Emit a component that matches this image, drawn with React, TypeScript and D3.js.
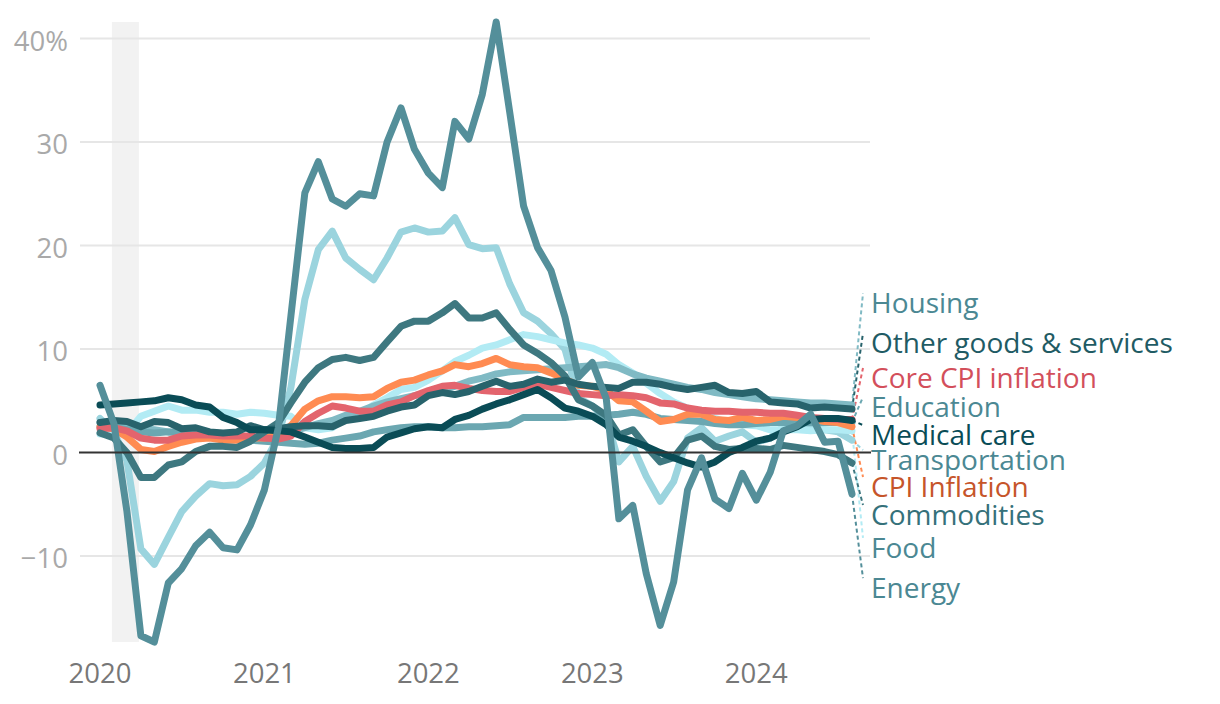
import React from 'react';
import * as d3 from 'd3';

// ---- Data (YoY % change, monthly Jan 2020 – Aug 2024) ----
const startMonth = new Date(2020, 0, 1);
const endMonth = new Date(2024, 7, 1);
const months = d3.timeMonth.range(startMonth, d3.timeMonth.offset(endMonth, 1));

const energy = [
  6.5, 2.8, -5.7, -17.7, -18.3, -12.6, -11.2, -9.0, -7.7, -9.2, -9.4, -7.0,
  -3.6, 2.4, 13.2, 25.1, 28.1, 24.5, 23.8, 25.0, 24.8, 30.0, 33.3, 29.3,
  27.0, 25.6, 32.0, 30.3, 34.6, 41.6, 32.9, 23.8, 19.8, 17.6, 13.1, 7.3,
  8.7, 5.2, -6.4, -5.1, -11.7, -16.7, -12.5, -3.6, -0.5, -4.5, -5.4, -2.0,
  -4.6, -1.9, 2.1, 2.6, 3.7, 1.0, 1.1, -4.0,
];
const transportation = [
  3.3, 2.0, -0.8, -9.3, -10.8, -8.2, -5.7, -4.2, -3.0, -3.2, -3.1, -2.3,
  -1.0, 1.5, 6.3, 14.8, 19.6, 21.4, 18.8, 17.7, 16.7, 18.8, 21.3, 21.7,
  21.3, 21.4, 22.7, 20.1, 19.7, 19.8, 16.3, 13.5, 12.7, 11.5, 10.0, 5.3,
  4.5, 3.3, -0.9, 0.6, -2.3, -4.7, -2.8, 1.4, 2.4, 1.1, 1.6, 2.0,
  1.0, 1.4, 2.5, 2.8, 2.6, 2.2, 2.0, 1.2,
];
const food = [
  1.8, 1.8, 1.9, 3.5, 4.0, 4.5, 4.1, 4.1, 3.9, 3.9, 3.7, 3.9,
  3.8, 3.6, 3.5, 2.4, 2.2, 2.4, 3.4, 3.7, 4.6, 5.3, 6.1, 6.3,
  7.0, 7.9, 8.8, 9.4, 10.1, 10.4, 10.9, 11.4, 11.2, 10.9, 10.6, 10.4,
  10.1, 9.5, 8.5, 7.7, 6.7, 5.7, 4.9, 4.3, 3.7, 3.3, 2.9, 2.7,
  2.6, 2.2, 2.2, 2.2, 2.1, 2.2, 2.2, 2.1,
];
const housing = [
  2.9, 2.9, 2.6, 2.3, 2.2, 2.0, 2.0, 1.8, 1.6, 1.6, 1.4, 1.4,
  1.5, 1.7, 2.0, 2.4, 2.8, 3.1, 3.6, 4.0, 4.5, 4.9, 5.2, 5.5,
  5.8, 6.1, 6.4, 6.9, 7.2, 7.6, 7.8, 7.9, 8.0, 8.1, 8.2, 8.3,
  8.4, 8.5, 8.2, 7.6, 7.2, 6.9, 6.6, 6.3, 6.1, 5.8, 5.6, 5.4,
  5.2, 5.1, 5.0, 4.9, 4.8, 4.8, 4.7, 4.6,
];
const education = [
  2.5, 2.4, 2.2, 2.0, 1.9, 2.0, 1.9, 1.8, 1.7, 1.6, 1.4, 1.2,
  1.1, 1.0, 0.9, 0.8, 0.9, 1.2, 1.4, 1.6, 2.0, 2.2, 2.4, 2.5,
  2.5, 2.4, 2.4, 2.5, 2.5, 2.6, 2.7, 3.4, 3.4, 3.4, 3.4, 3.5,
  3.5, 3.6, 3.7, 3.9, 3.7, 3.3, 3.2, 3.1, 3.0, 2.8, 2.7, 2.7,
  2.8, 2.9, 2.9, 2.9, 2.9, 2.9, 2.9, 2.9,
];
const otherGoods = [
  2.9, 3.1, 3.0, 2.5, 3.0, 2.9, 2.3, 2.4, 2.0, 1.9, 2.0, 2.6,
  2.2, 2.3, 2.5, 2.6, 2.6, 2.5, 3.1, 3.3, 3.5, 4.0, 4.4, 4.6,
  5.5, 5.8, 5.6, 5.9, 6.4, 6.9, 6.4, 6.6, 7.1, 6.8, 7.0, 6.6,
  6.4, 6.3, 6.2, 6.8, 6.8, 6.6, 6.3, 6.1, 6.3, 6.5, 5.8, 5.7,
  5.9, 4.9, 4.8, 4.7, 4.3, 4.4, 4.3, 4.2,
];
const commodities = [
  1.9, 1.4, 0.0, -2.4, -2.4, -1.2, -0.9, 0.1, 0.6, 0.6, 0.5, 1.1,
  2.0, 2.9, 4.8, 6.8, 8.2, 9.0, 9.2, 8.9, 9.2, 10.7, 12.2, 12.7,
  12.7, 13.5, 14.4, 13.0, 13.0, 13.5, 11.9, 10.4, 9.6, 8.7, 7.4, 5.1,
  4.5, 3.6, 1.7, 2.2, 0.6, -0.9, -0.5, 1.2, 1.6, 0.6, 0.3, 0.4,
  0.4, 0.3, 0.7, 0.5, 0.3, 0.1, -0.2, -1.0,
];
const medicalCare = [
  4.6, 4.7, 4.8, 4.9, 5.0, 5.3, 5.1, 4.6, 4.4, 3.4, 2.9, 2.2,
  2.2, 2.1, 2.0, 1.5, 1.0, 0.5, 0.4, 0.4, 0.5, 1.5, 1.9, 2.3,
  2.5, 2.4, 3.2, 3.6, 4.2, 4.7, 5.1, 5.6, 6.1, 5.3, 4.3, 4.0,
  3.5, 2.7, 1.5, 1.1, 0.6, 0.0, -0.5, -1.0, -1.4, -0.9, 0.0, 0.5,
  1.1, 1.4, 2.0, 2.5, 3.2, 3.3, 3.3, 3.1,
];
const coreCpi = [
  2.3, 2.4, 2.1, 1.4, 1.2, 1.2, 1.6, 1.7, 1.7, 1.6, 1.6, 1.6,
  1.4, 1.3, 1.6, 3.0, 3.8, 4.5, 4.3, 4.0, 4.0, 4.6, 4.9, 5.5,
  6.0, 6.4, 6.5, 6.2, 6.0, 5.9, 5.9, 6.3, 6.6, 6.3, 6.0, 5.7,
  5.6, 5.5, 5.6, 5.5, 5.3, 4.8, 4.7, 4.3, 4.1, 4.0, 4.0, 3.9,
  3.9, 3.8, 3.8, 3.6, 3.4, 3.3, 3.2, 3.2,
];
const cpi = [
  2.5, 2.3, 1.5, 0.3, 0.1, 0.6, 1.0, 1.3, 1.4, 1.2, 1.2, 1.4,
  1.4, 1.7, 2.6, 4.2, 5.0, 5.4, 5.4, 5.3, 5.4, 6.2, 6.8, 7.0,
  7.5, 7.9, 8.5, 8.3, 8.6, 9.1, 8.5, 8.3, 8.2, 7.7, 7.1, 6.5,
  6.4, 6.0, 5.0, 4.9, 4.0, 3.0, 3.2, 3.7, 3.7, 3.2, 3.1, 3.4,
  3.1, 3.2, 3.5, 3.4, 3.3, 3.0, 2.9, 2.5,
];

const yTicks = [-10, 0, 10, 20, 30, 40];
const yearTicks = [2020, 2021, 2022, 2023, 2024];
const recession = [new Date(2020, 1, 1), new Date(2020, 3, 1)];

// label placement (in % units, where each end label sits)
const labelAt: Record<string, number> = {
  housing: 15.4, other: 11.55, core: 8.17, education: 5.37, medical: 2.66,
  transportation: 0.25, cpi: -2.36, commodities: -5.06, food: -8.25, energy: -12.12,
};

type S = { key: string; name: string; values: number[]; color: string; text: string };
// drawing order, bottom to top
const series: S[] = [
  { key: 'transportation', name: 'Transportation', values: transportation, color: '#9bd4de', text: '#4b8893' },
  { key: 'food', name: 'Food', values: food, color: '#b2ebf4', text: '#4b8893' },
  { key: 'housing', name: 'Housing', values: housing, color: '#80bac4', text: '#4b8893' },
  { key: 'education', name: 'Education', values: education, color: '#6ba7b1', text: '#4b8893' },
  { key: 'cpi', name: 'CPI Inflation', values: cpi, color: '#ff8b52', text: '#c6552a' },
  { key: 'core', name: 'Core CPI inflation', values: coreCpi, color: '#e3646d', text: '#d34f5b' },
  { key: 'commodities', name: 'Commodities', values: commodities, color: '#3e7880', text: '#35717a' },
  { key: 'other', name: 'Other goods & services', values: otherGoods, color: '#28636c', text: '#1f5b64' },
  { key: 'medical', name: 'Medical care', values: medicalCare, color: '#0a4c56', text: '#0a4c56' },
  { key: 'energy', name: 'Energy', values: energy, color: '#548f9a', text: '#4b8893' },
];

const W = 1220;
const H = 704;
const FONT = '"Open Sans", Lato, sans-serif';

export default function App() {
  const all = series.flatMap((s) => s.values);
  const [mn, mx] = d3.extent(all) as [number, number];
  const x = d3.scaleTime().domain([startMonth, endMonth]).range([100, 852]);
  const y = d3.scaleLinear().domain([mn, mx]).range([642, 22]);
  const line = d3
    .line<number>()
    .x((_, i) => x(months[i]))
    .y((d) => y(d));
  const gridX0 = 80;
  const gridX1 = 870;
  const lastX = x(endMonth);

  return (
    <svg
      width={W}
      height={H}
      style={{ position: 'absolute', left: 0, top: 0, background: '#fff' }}
      fontFamily={FONT}
    >
      <rect
        x={x(recession[0]) - 2}
        y={y(mx)}
        width={x(recession[1]) - x(recession[0])}
        height={y(mn) - y(mx)}
        fill="#f2f2f2"
      />
      {yTicks
        .filter((t) => t !== 0)
        .map((t) => (
          <line key={t} x1={gridX0} x2={gridX1} y1={y(t)} y2={y(t)} stroke="#e6e6e6" strokeWidth={2} />
        ))}
      {yTicks.map((t) => (
        <text key={'l' + t} x={68} y={y(t) + 12} textAnchor="end" fontSize={27.5} fill="#a9a9a9">
          {(t < 0 ? '\u2212' + Math.abs(t) : String(t)) + (t === 40 ? '%' : '')}
        </text>
      ))}
      {yearTicks.map((yr) => (
        <text key={yr} x={x(new Date(yr, 0, 1))} y={683} textAnchor="middle" fontSize={27.5} fill="#777">
          {yr}
        </text>
      ))}
      {series.map((s) => (
        <line
          key={'ld' + s.key}
          x1={lastX}
          y1={y(s.values[s.values.length - 1])}
          x2={lastX + 11}
          y2={y(labelAt[s.key])}
          stroke={s.color}
          strokeWidth={2}
          strokeDasharray="4,3"
        />
      ))}
      {series.map((s) => (
        <path
          key={s.key}
          d={line(s.values) || ''}
          fill="none"
          stroke={s.color}
          strokeWidth={7}
          strokeLinejoin="round"
          strokeLinecap="round"
        />
      ))}
      <line x1={gridX0 - 1} x2={gridX1 + 1} y1={y(0)} y2={y(0)} stroke="#333" strokeWidth={2} />
      {series.map((s) => (
        <text key={'t' + s.key} x={lastX + 19} y={y(labelAt[s.key]) + 20} fontSize={28} fill={s.text}>
          {s.name}
        </text>
      ))}
    </svg>
  );
}
